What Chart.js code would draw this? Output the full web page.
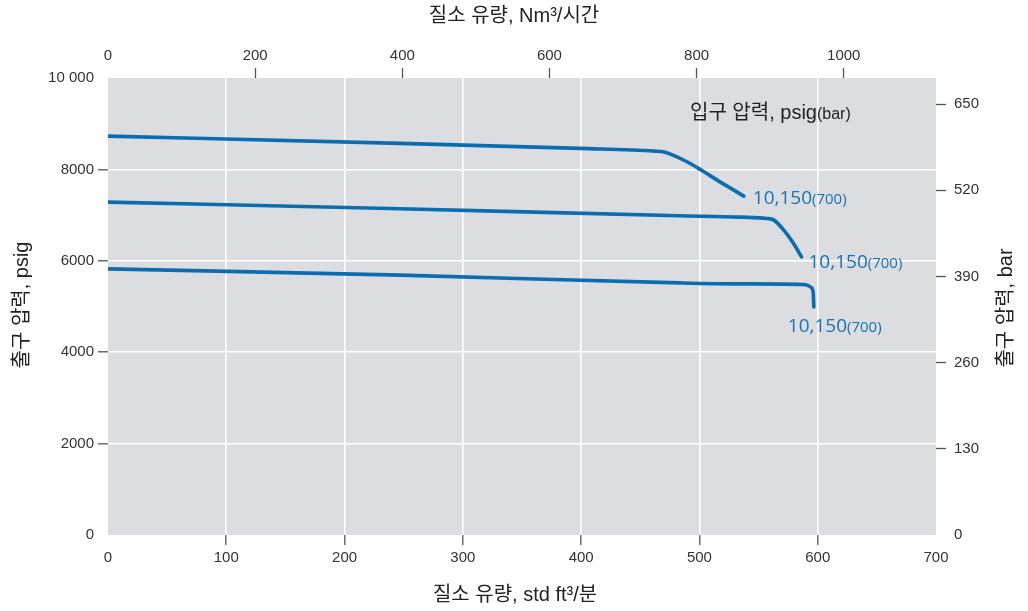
<!DOCTYPE html>
<html>
<head>
<meta charset="utf-8">
<script src="https://cdn.jsdelivr.net/npm/chart.js@4/dist/chart.umd.min.js"></script>
<style>
  html, body { margin: 0; padding: 0; background: #fff; }
  #wrap { width: 1028px; height: 611px; position: relative; }
</style>
</head>
<body>
<div id="wrap"><canvas id="chart"></canvas></div>
<script>
// curve values: flow in std ft3/min, outlet pressure in psig
const curve1Flow = [0, 247, 399, 462, 470, 475, 489.5, 501.5, 515, 527, 537.5];
const curve1Psig = [8729, 8570, 8460, 8400, 8380, 8340, 8167, 7985, 7766, 7580, 7416];

const curve2Flow = [0, 247, 483, 535, 557, 563, 571.3, 580, 586.3];
const curve2Psig = [7284, 7138, 6985, 6955, 6926, 6890, 6670, 6364, 6086];

const curve3Flow = [0, 247, 483, 535, 586.6, 592, 594.5, 596.2, 596.7];
const curve3Psig = [5823, 5686, 5517, 5495, 5482, 5458, 5415, 5300, 4991];

const curveMain = ['10,150', '10,150', '10,150'];
const curveSub = ['(700)', '(700)', '(700)'];

const psigTicks = [0, 2000, 4000, 6000, 8000, 10000];
const barTicks = [0, 130, 260, 390, 520, 650];
const scfmTicks = [0, 100, 200, 300, 400, 500, 600, 700];
const nm3Ticks = [0, 200, 400, 600, 800, 1000];

const PSI_PER_BAR = 14.5038;
const NM3H_PER_SCFM = 1.6077;

const blue = '#0b6daf';
const labelBlue = '#1a72b4';
const textCol = '#333333';
const tickFont = { family: '"Liberation Sans", Arial, sans-serif', size: 15 };
const titleFont = '20px "Liberation Sans", "Noto Sans CJK KR", sans-serif';

function pts(xs, ys) {
  return xs.map((x, i) => ({ x: x, y: ys[i] }));
}

function edgeless(list, c) {
  // no tick mark / grid line at the two ends of an axis
  return ctx => {
    const v = ctx.tick ? ctx.tick.value : null;
    if (v === list[0] || v === list[list.length - 1]) return 'rgba(0,0,0,0)';
    return c;
  };
}

const bgPlugin = {
  id: 'plotBg',
  beforeDraw(chart) {
    const a = chart.chartArea, c = chart.ctx;
    c.save();
    c.fillStyle = '#dcdde0';
    c.fillRect(a.left, a.top, a.right - a.left, a.bottom - a.top);
    c.restore();
  }
};

const textPlugin = {
  id: 'texts',
  afterDatasetsDraw(chart) {
    const c = chart.ctx, a = chart.chartArea;
    c.save();
    // end labels for the three inlet pressures
    const offs = [[9, 1], [7, 4], [-26, 18]];
    chart.data.datasets.forEach((ds, i) => {
      const meta = chart.getDatasetMeta(i);
      const p = meta.data[meta.data.length - 1];
      let x = p.x + offs[i][0];
      const y = p.y + offs[i][1] + 7;
      c.fillStyle = labelBlue;
      c.textAlign = 'left';
      c.textBaseline = 'alphabetic';
      c.font = '19px "Open Sans", sans-serif';
      c.fillText(curveMain[i], x, y);
      x += c.measureText(curveMain[i]).width;
      c.font = '15px "Open Sans", sans-serif';
      c.fillText(curveSub[i], x, y);
    });
    // caption inside the plot
    c.fillStyle = '#222';
    c.font = '20px "Liberation Sans", "Noto Sans CJK KR", sans-serif';
    let tx = a.left + 582;
    const ty = a.top + 41;
    c.fillText('입구 압력, psig', tx, ty);
    tx += c.measureText('입구 압력, psig').width;
    c.font = '16px "Liberation Sans", sans-serif';
    c.fillText('(bar)', tx, ty);
    c.restore();
  },
  afterDraw(chart) {
    const c = chart.ctx, a = chart.chartArea;
    const cx = (a.left + a.right) / 2;
    c.save();
    c.fillStyle = '#222';
    c.font = titleFont;
    c.textAlign = 'center';
    c.textBaseline = 'middle';
    c.fillText('질소 유량, Nm³/시간', cx - 8, 16);
    c.fillText('질소 유량, std ft³/분', cx - 7, 595);
    c.translate(22, 305);
    c.rotate(-Math.PI / 2);
    c.fillText('출구 압력, psig', 0, 0);
    c.restore();
    c.save();
    c.fillStyle = '#222';
    c.font = titleFont;
    c.textAlign = 'center';
    c.textBaseline = 'middle';
    c.translate(1006, 308);
    c.rotate(-Math.PI / 2);
    c.fillText('출구 압력, bar', 0, 0);
    c.restore();
  }
};

const series = [
  pts(curve1Flow, curve1Psig),
  pts(curve2Flow, curve2Psig),
  pts(curve3Flow, curve3Psig)
];

const chart = new Chart(document.getElementById('chart'), {
  type: 'line',
  data: {
    datasets: series.map(d => ({
      data: d,
      xAxisID: 'x',
      yAxisID: 'y',
      borderColor: blue,
      borderWidth: 3.6,
      pointRadius: 0,
      fill: false,
      cubicInterpolationMode: 'monotone',
      borderCapStyle: 'round',
      borderJoinStyle: 'round'
    }))
  },
  options: {
    responsive: true,
    maintainAspectRatio: false,
    animation: false,
    layout: { padding: 0 },
    plugins: {
      legend: { display: false },
      tooltip: { enabled: false }
    },
    scales: {
      x: {
        type: 'linear',
        position: 'bottom',
        min: scfmTicks[0],
        max: scfmTicks[scfmTicks.length - 1],
        afterFit: s => { s.height = 76; },
        afterBuildTicks: s => { s.ticks = scfmTicks.map(v => ({ value: v })); },
        border: { display: false },
        grid: {
          color: edgeless(scfmTicks, '#ffffff'),
          tickColor: edgeless(scfmTicks, '#555555'),
          lineWidth: 1.6,
          tickWidth: 1.3,
          tickLength: 10
        },
        ticks: { color: textCol, font: tickFont, padding: 4, maxRotation: 0 }
      },
      x2: {
        type: 'linear',
        position: 'top',
        min: 0,
        max: scfmTicks[scfmTicks.length - 1] * NM3H_PER_SCFM,
        afterFit: s => { s.height = 78; },
        afterBuildTicks: s => { s.ticks = nm3Ticks.map(v => ({ value: v })); },
        border: { display: false },
        grid: {
          drawOnChartArea: false,
          tickColor: ctx => ctx.tick && ctx.tick.value === 0 ? 'rgba(0,0,0,0)' : '#555555',
          tickWidth: 1.3,
          tickLength: 10
        },
        ticks: {
          color: textCol,
          font: tickFont,
          padding: 3,
          maxRotation: 0,
          callback: v => String(v)
        }
      },
      y: {
        type: 'linear',
        position: 'left',
        min: psigTicks[0],
        max: psigTicks[psigTicks.length - 1],
        afterFit: s => { s.width = 108; },
        afterBuildTicks: s => { s.ticks = psigTicks.map(v => ({ value: v })); },
        border: { display: false },
        grid: {
          color: edgeless(psigTicks, '#ffffff'),
          tickColor: edgeless(psigTicks, '#555555'),
          lineWidth: 1.6,
          tickWidth: 1.3,
          tickLength: 10
        },
        ticks: {
          color: textCol,
          font: tickFont,
          padding: 4,
          callback: v => v === 10000 ? '10 000' : String(v)
        }
      },
      y2: {
        type: 'linear',
        position: 'right',
        min: 0,
        max: psigTicks[psigTicks.length - 1] / PSI_PER_BAR,
        afterFit: s => { s.width = 92; },
        afterBuildTicks: s => { s.ticks = barTicks.map(v => ({ value: v })); },
        border: { display: false },
        grid: {
          drawOnChartArea: false,
          tickColor: ctx => ctx.tick && ctx.tick.value === 0 ? 'rgba(0,0,0,0)' : '#555555',
          tickWidth: 1.3,
          tickLength: 10
        },
        ticks: { color: textCol, font: tickFont, padding: 8 }
      }
    }
  },
  plugins: [bgPlugin, textPlugin]
});
</script>
</body>
</html>
